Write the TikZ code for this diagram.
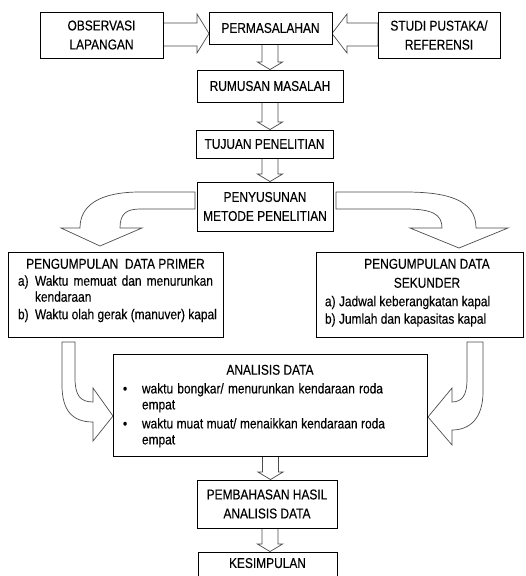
\documentclass[tikz,border=0pt]{standalone}
\usepackage{fontspec}
\setmainfont{Liberation Sans}[FakeStretch=0.84,FakeBold=0.2]
\usetikzlibrary{calc}
\pgfdeclarelayer{bg}
\pgfsetlayers{bg,main}
\newcommand\boxfont{\fontsize{14.2}{19}\selectfont}
\newcommand\listfont{\fontsize{14.2}{16}\selectfont}
\definecolor{arrowc}{gray}{0.3}
\tikzset{
  box/.style={draw=black, line width=0.9pt, fill=white, inner sep=0pt, font=\boxfont},
  tbox/.style={box, align=center},
  barrow/.style={draw=arrowc, line width=0.7pt, fill=white, line join=miter}
}
% vertical block arrow: #1 x, #2 upper node, #3 lower node
\newcommand\downblock[3]{%
  \draw[barrow] let \p1=(#2.south), \p2=(#3.north) in
    (#1pt-8pt,\y1) -- (#1pt+8pt,\y1) -- (#1pt+8pt,\y2+7.5pt) -- (#1pt+12.5pt,\y2+7.5pt)
    -- (#1pt,\y2) -- (#1pt-12.5pt,\y2+7.5pt) -- (#1pt-8pt,\y2+7.5pt) -- cycle;}
\begin{document}
\begin{tikzpicture}[x=1pt,y=-1pt]
\useasboundingbox (0,0) rectangle (526,576);
\clip (0,0) rectangle (526,576);

% boxes
\node[tbox, minimum width=123pt, minimum height=46pt] (obs) at (101.5,35) {OBSERVASI\\LAPANGAN};
\node[tbox, minimum width=123pt, minimum height=32pt] (perm) at (270.5,28) {PERMASALAHAN};
\node[tbox, minimum width=122pt, minimum height=46pt] (studi) at (439,35) {STUDI PUSTAKA/\\REFERENSI};
\node[tbox, minimum width=146pt, minimum height=32pt] (rum) at (270,86) {RUMUSAN MASALAH};
\node[tbox, minimum width=137pt, minimum height=28pt] (tuj) at (264.5,144) {TUJUAN PENELITIAN};
\node[tbox, minimum width=136pt, minimum height=49pt] (peny) at (265,206.5) {PENYUSUNAN\\METODE PENELITIAN};

\node[box] (primer) at (115.5,294.5) {\begin{minipage}[c][85pt][t]{215pt}\listfont
\vspace*{6.8pt}
{\centering PENGUMPULAN\ \ DATA PRIMER\par}
\vspace{1pt}
\hspace*{10pt}\makebox[17pt][l]{a)}\makebox[178pt][s]{Waktu memuat dan menurunkan}\par
\hspace*{27pt}kendaraan\par
\vspace{1.5pt}
\hspace*{10pt}\makebox[17pt][l]{b)}Waktu olah gerak (manuver) kapal\par
\end{minipage}};

\node[box] (sek) at (419.5,294.5) {\begin{minipage}[c][85pt][t]{207pt}\fontsize{14.2}{17.5}\selectfont
\vspace*{6.8pt}
{\centering\fontsize{14.2}{19}\selectfont \hspace*{15pt}PENGUMPULAN DATA\\\hspace*{15pt}SEKUNDER\par}
\vspace{1pt}
\hspace*{9pt}\makebox[14pt][l]{a)}Jadwal keberangkatan kapal\par
\hspace*{9pt}\makebox[14pt][l]{b)}Jumlah dan kapasitas kapal\par
\end{minipage}};

\node[box] (anal) at (270,405) {\begin{minipage}[c][102pt][t]{314pt}\listfont
\vspace*{10.8pt}
{\centering ANALISIS DATA\par}
\vspace{2.7pt}
\hspace*{10pt}\makebox[19pt][l]{\textbullet}\makebox[241pt][s]{waktu bongkar/ menurunkan kendaraan roda}\par
\hspace*{29pt}empat\par
\vspace{3pt}
\hspace*{10pt}\makebox[19pt][l]{\textbullet}\makebox[243pt][s]{waktu muat muat/ menaikkan kendaraan roda}\par
\hspace*{29pt}empat\par
\end{minipage}};

\node[tbox, minimum width=140pt, minimum height=48pt] (pemb) at (267,504) {PEMBAHASAN HASIL\\ANALISIS DATA};
\node[tbox, minimum width=139pt, minimum height=26pt] (kes) at (267.5,565) {\raisebox{4pt}{KESIMPULAN}};

\begin{pgfonlayer}{bg}
% straight block arrows
\draw[barrow] (163,23) -- (197,23) -- (197,14) -- (209,33.5) -- (197,53) -- (197,46) -- (163,46) -- cycle;
\draw[barrow] (378,23) -- (347,23) -- (347,14) -- (332,33.5) -- (347,53) -- (347,46) -- (378,46) -- cycle;
\downblock{270}{perm}{rum}
\downblock{270}{rum}{tuj}
\downblock{270}{tuj}{peny}
\downblock{270.5}{anal}{pemb}
\downblock{270}{pemb}{kes}
% curved block arrows
\draw[barrow] (195,192) -- (140,192) .. controls (100,192) and (80,205) .. (80,228)
  -- (61,228) -- (100,246) -- (142,228) -- (120,228)
  .. controls (120,214) and (126,209) .. (140,209) -- (195,209) -- cycle;
\draw[barrow] (336,192) -- (405,192) .. controls (448,192) and (476,200) .. (476,228)
  -- (508,228) -- (459,248) -- (410,228) -- (442,228)
  .. controls (442,214) and (432,209) .. (405,209) -- (336,209) -- cycle;
\draw[barrow] (62,342) -- (75,342) -- (75,378) .. controls (75,395) and (80,402) .. (93,402)
  -- (93,388) -- (113,416) -- (93,441) -- (93,422)
  .. controls (72,422) and (62,410) .. (62,385) -- cycle;
\draw[barrow] (467,342) -- (483,342) -- (483,392) .. controls (483,418) and (470,430) .. (452,430)
  -- (452,445) -- (428,417) -- (452,388) -- (452,402)
  .. controls (462,402) and (467,395) .. (467,380) -- cycle;
\end{pgfonlayer}
\end{tikzpicture}
\end{document}
